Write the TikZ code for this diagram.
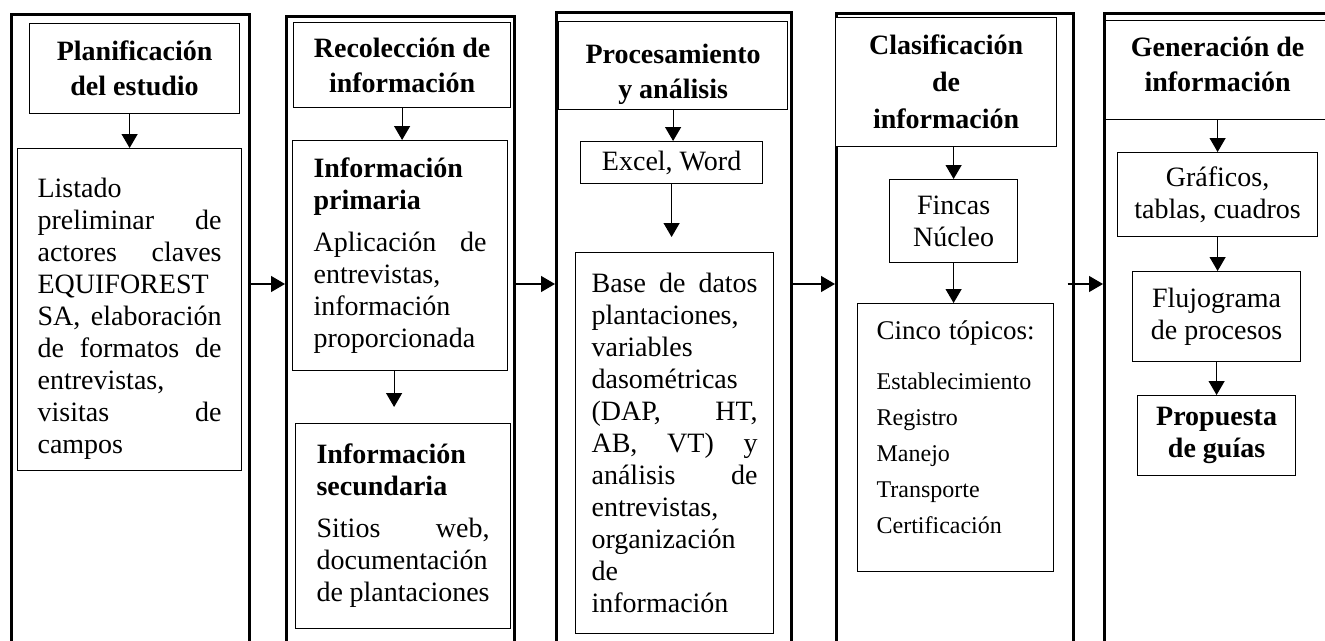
\documentclass[tikz,border=0pt]{standalone}
\usepackage{fontspec}
\setmainfont{Liberation Serif}
\usetikzlibrary{arrows.meta,positioning}
\setlength{\parindent}{0pt}
\newcommand{\txt}{\fontsize{28pt}{32pt}\selectfont}
\newcommand{\hdtxt}{\bfseries\fontsize{28pt}{35pt}\selectfont}
\newcommand{\smtxt}{\fontsize{24pt}{36pt}\selectfont}

\begin{document}
\begin{tikzpicture}[x=1pt, y=-1pt,
  frame/.style = {draw, line width=2.6pt, anchor=north west, inner sep=0pt, minimum height=660pt},
  head/.style = {draw, fill=white, line width=1.2pt, anchor=north west, inner sep=0pt, align=center, font=\hdtxt},
  box/.style = {draw, line width=1.2pt, anchor=north west, inner sep=0pt, align=center, font=\txt},
  jbox/.style = {box, align=justify},
  arr/.style = {-{Triangle[length=14pt, width=16pt]}, line width=1.2pt}]
  \useasboundingbox (0,0) rectangle (1325,640);
  \clip (0,0) rectangle (1325,640);
  \fill[white] (0,0) rectangle (1325,640);

  % columns
  \node (f1) at (10,13)   [frame, minimum width=238pt] {};
  \node (f2) at (285,15)  [frame, minimum width=228pt] {};
  \node (f3) at (555,11)  [frame, minimum width=235pt] {};
  \node (f4) at (835,12)  [frame, minimum width=237pt] {};
  \node (f5) at (1103,12) [frame, minimum width=260pt] {};

  % planificacion
  \node (h1) at (29,23) [head, minimum width=210pt, minimum height=90pt] {Planificación\\del estudio};
  \node (b1) at (17,148) [jbox, text width=184pt, inner xsep=20pt, minimum height=322pt]
    {\rule{0pt}{37pt}Listado\\ preliminar de\linebreak actores claves\linebreak EQUIFOREST\\ SA, elaboración\linebreak
     de formatos de\linebreak entrevistas,\\ visitas de\linebreak campos};

  % recoleccion
  \node (h2) at (293,22) [head, minimum width=217pt, minimum height=85pt] {Recolección de\\información};
  \node (b2a) at (292,140) [jbox, text width=173pt, inner xsep=21pt, minimum height=230pt]
    {\textbf{Información}\\ \textbf{primaria}\\[10pt] Aplicación de\linebreak entrevistas,\\ información\\ proporcionada};
  \node (b2b) at (295,423) [jbox, text width=173pt, inner xsep=21pt, minimum height=205pt]
    {\textbf{Información}\\ \textbf{secundaria}\\[10pt] Sitios web,\linebreak documentación\\ de plantaciones};

  % procesamiento
  \node (h3) at (558,21) [head, minimum width=229pt, minimum height=88pt] {\rule{0pt}{36pt}Procesamiento\\y análisis};
  \node (b3a) at (580,141) [box, minimum width=182pt, minimum height=42pt] {Excel, Word};
  \node (b3b) at (575,252) [jbox, text width=166pt, inner xsep=16pt, minimum height=381pt]
    {Base de datos\linebreak plantaciones,\\ variables\\ dasométricas\\ (DAP, HT,\linebreak AB, VT) y\linebreak
     análisis de\linebreak entrevistas,\\ organización\\ de\\ información};

  % clasificacion
  \node (h4) at (835,17) [head, minimum width=221pt, minimum height=129pt] {Clasificación\\[2pt]de\\[2pt]información};
  \node (b4a) at (889,179) [box, minimum width=128pt, minimum height=83pt] {Fincas\\Núcleo};
  \node (b4b) at (857,303) [box, align=left, text width=158pt, inner xsep=19pt, minimum height=268pt, font=\smtxt]
    {{\fontsize{27pt}{36pt}\selectfont Cinco tópicos:}\\[14pt] Establecimiento\\ Registro\\ Manejo\\ Transporte\\
     Certificación\rule[-20pt]{0pt}{0pt}};

  % generacion
  \node (h5) at (1105,20) [head, minimum width=224pt, minimum height=99pt] {Generación de\\información\rule[-12pt]{0pt}{0pt}};
  \node (b5a) at (1117,152) [box, minimum width=200pt, minimum height=84pt] {Gráficos,\\tablas, cuadros};
  \node (b5b) at (1132,271) [box, minimum width=168pt, minimum height=90pt] {Flujograma\\de procesos};
  \node (b5c) at (1137,395) [box, minimum width=158pt, minimum height=80pt, font=\bfseries\txt] {Propuesta\\de guías};

  % arrows
  \coordinate (mid) at (0,284);
  \draw[arr] (f1.east |- mid) -- (f2.west |- mid);
  \draw[arr] (f2.east |- mid) -- (f3.west |- mid);
  \draw[arr] (f3.east |- mid) -- (f4.west |- mid);
  \draw[arr] ([xshift=-7pt]f4.east |- mid) -- (f5.west |- mid);

  \draw[arr] (b1.north |- h1.south) -- (b1.north);
  \draw[arr] (h2.south) -- (h2.south |- b2a.north);
  \draw[arr, shorten >=16pt] ([xshift=-6pt]b2a.south) -- ([xshift=-6pt]b2a.south |- b2b.north);
  \draw[arr] (h3.south) -- (h3.south |- b3a.north);
  \draw[arr, shorten >=15pt] (b3a.south) -- (b3a.south |- b3b.north);
  \draw[arr] (b4a.north |- h4.south) -- (b4a.north);
  \draw[arr] (b4a.south) -- (b4a.south |- b4b.north);
  \draw[arr] (h5.south) -- (h5.south |- b5a.north);
  \draw[arr] (b5a.south) -- (b5a.south |- b5b.north);
  \draw[arr] (b5b.south) -- (b5b.south |- b5c.north);
\end{tikzpicture}
\end{document}
